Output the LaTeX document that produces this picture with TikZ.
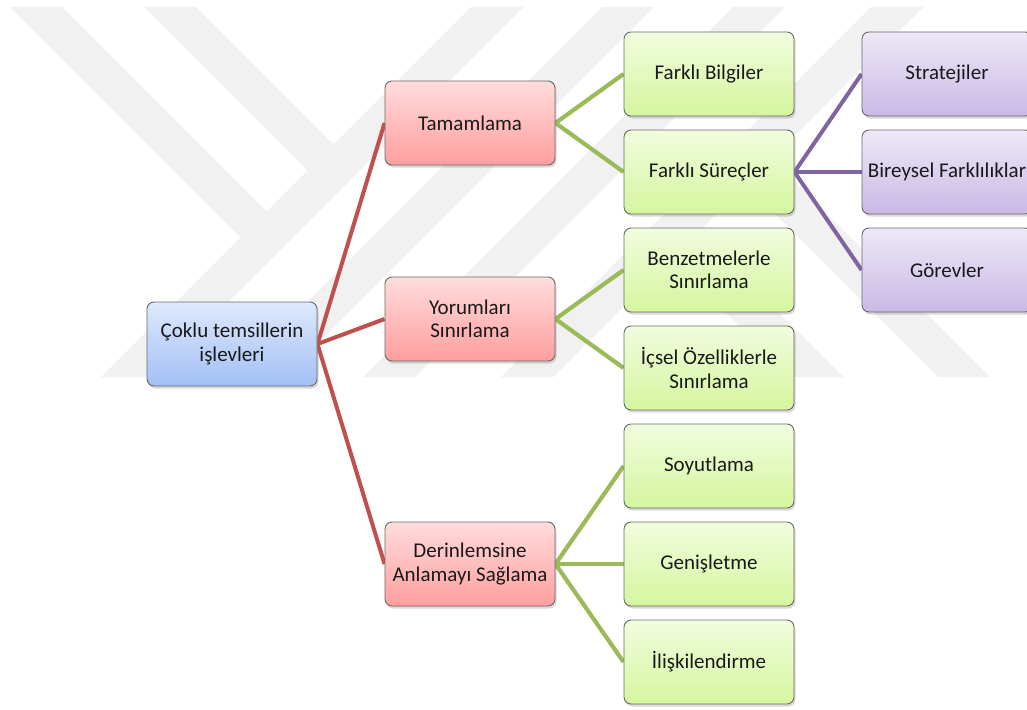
\documentclass[tikz,border=0pt]{standalone}
\usepackage{fontspec}
\setmainfont{Carlito}
\usetikzlibrary{shadows}
\definecolor{wm}{RGB}{241,241,241}
\definecolor{boxline}{RGB}{105,105,105}
\definecolor{txt}{RGB}{25,25,25}
\definecolor{bluetop}{RGB}{222,233,252}
\definecolor{bluebot}{RGB}{162,191,245}
\definecolor{redtop}{RGB}{255,220,220}
\definecolor{redbot}{RGB}{255,158,158}
\definecolor{greentop}{RGB}{241,252,222}
\definecolor{greenbot}{RGB}{213,246,158}
\definecolor{purptop}{RGB}{238,232,247}
\definecolor{purpbot}{RGB}{201,185,230}
\definecolor{redln}{RGB}{192,80,77}
\definecolor{greenln}{RGB}{155,187,89}
\definecolor{purpln}{RGB}{128,100,162}
\pgfdeclarelayer{wmlayer}
\pgfdeclarelayer{lines}
\pgfsetlayers{wmlayer,lines,main}
\begin{document}
\begin{tikzpicture}[x=1pt,y=-1pt,
  box/.style={rectangle, rounded corners=7pt, draw=boxline, line width=0.9pt,
    minimum width=170pt, minimum height=84pt, inner sep=1pt, align=center,
    font=\fontsize{21}{23.5}\selectfont, text=txt,
    drop shadow={shadow xshift=1.5pt, shadow yshift=-2.5pt, opacity=0.3}},
  rootbox/.style={box, top color=bluetop, bottom color=bluebot},
  redbox/.style={box, top color=redtop, bottom color=redbot},
  greenbox/.style={box, top color=greentop, bottom color=greenbot},
  purpbox/.style={box, top color=purptop, bottom color=purpbot},
  redline/.style={draw=redln, line width=4pt},
  greenline/.style={draw=greenln, line width=4.2pt},
  purpline/.style={draw=purpln, line width=4pt},
  wmband/.style={fill=wm, draw=none}
]
\useasboundingbox (0,0) rectangle (1027,709);
\clip (0,0) rectangle (1027,709);

% watermark
\begin{pgfonlayer}{wmlayer}
\begin{scope}
\clip (0,7) rectangle (1027,377);
\fill[wmband] (471,7) -- (523,7) -- (153,377) -- (101,377) -- cycle;
\fill[wmband] (602,7) -- (654,7) -- (284,377) -- (232,377) -- cycle;
\fill[wmband] (733,7) -- (785,7) -- (415,377) -- (363,377) -- cycle;
\fill[wmband] (871,7) -- (923,7) -- (553,377) -- (501,377) -- cycle;
\fill[wmband] (10,7) -- (62,7) -- (266.5,211.5) -- (240.5,237.5) -- cycle;
\fill[wmband] (144,7) -- (196,7) -- (333.5,144.5) -- (307.5,170.5) -- cycle;
\fill[wmband] (671.5,258.5) -- (698,232) -- (843,377) -- (790,377) -- cycle;
\fill[wmband] (745.5,184.5) -- (771.5,158.5) -- (990,377) -- (938,377) -- cycle;
\end{scope}
\end{pgfonlayer}

% nodes
\node[rootbox] (root) at (232,344) {Çoklu temsillerin\\işlevleri};
\node[redbox] (tam) at (470,123) {Tamamlama};
\node[redbox] (yor) at (470,319) {Yorumları\\Sınırlama};
\node[redbox] (der) at (470,564) {Derinlemsine\\Anlamayı Sağlama};
\node[greenbox] (fb) at (709,74) {Farklı Bilgiler};
\node[greenbox] (fs) at (709,172) {Farklı Süreçler};
\node[greenbox] (ben) at (709,270) {Benzetmelerle\\Sınırlama};
\node[greenbox] (ics) at (709,368) {İçsel Özelliklerle\\Sınırlama};
\node[greenbox] (soy) at (709,466) {Soyutlama};
\node[greenbox] (gen) at (709,564) {Genişletme};
\node[greenbox] (ili) at (709,662) {İlişkilendirme};
\node[purpbox] (str) at (947,74) {Stratejiler};
\node[purpbox] (bir) at (947,172) {Bireysel Farklılıklar};
\node[purpbox] (gor) at (947,270) {Görevler};

% connectors
\begin{pgfonlayer}{lines}
\draw[redline] (root.east) -- (tam.west);
\draw[redline] (root.east) -- (yor.west);
\draw[redline] (root.east) -- (der.west);
\draw[greenline] (tam.east) -- (fb.west);
\draw[greenline] (tam.east) -- (fs.west);
\draw[greenline] (yor.east) -- (ben.west);
\draw[greenline] (yor.east) -- (ics.west);
\draw[greenline] (der.east) -- (soy.west);
\draw[greenline] (der.east) -- (gen.west);
\draw[greenline] (der.east) -- (ili.west);
\draw[purpline] (fs.east) -- (str.west);
\draw[purpline] (fs.east) -- (bir.west);
\draw[purpline] (fs.east) -- (gor.west);
\end{pgfonlayer}
\end{tikzpicture}
\end{document}
